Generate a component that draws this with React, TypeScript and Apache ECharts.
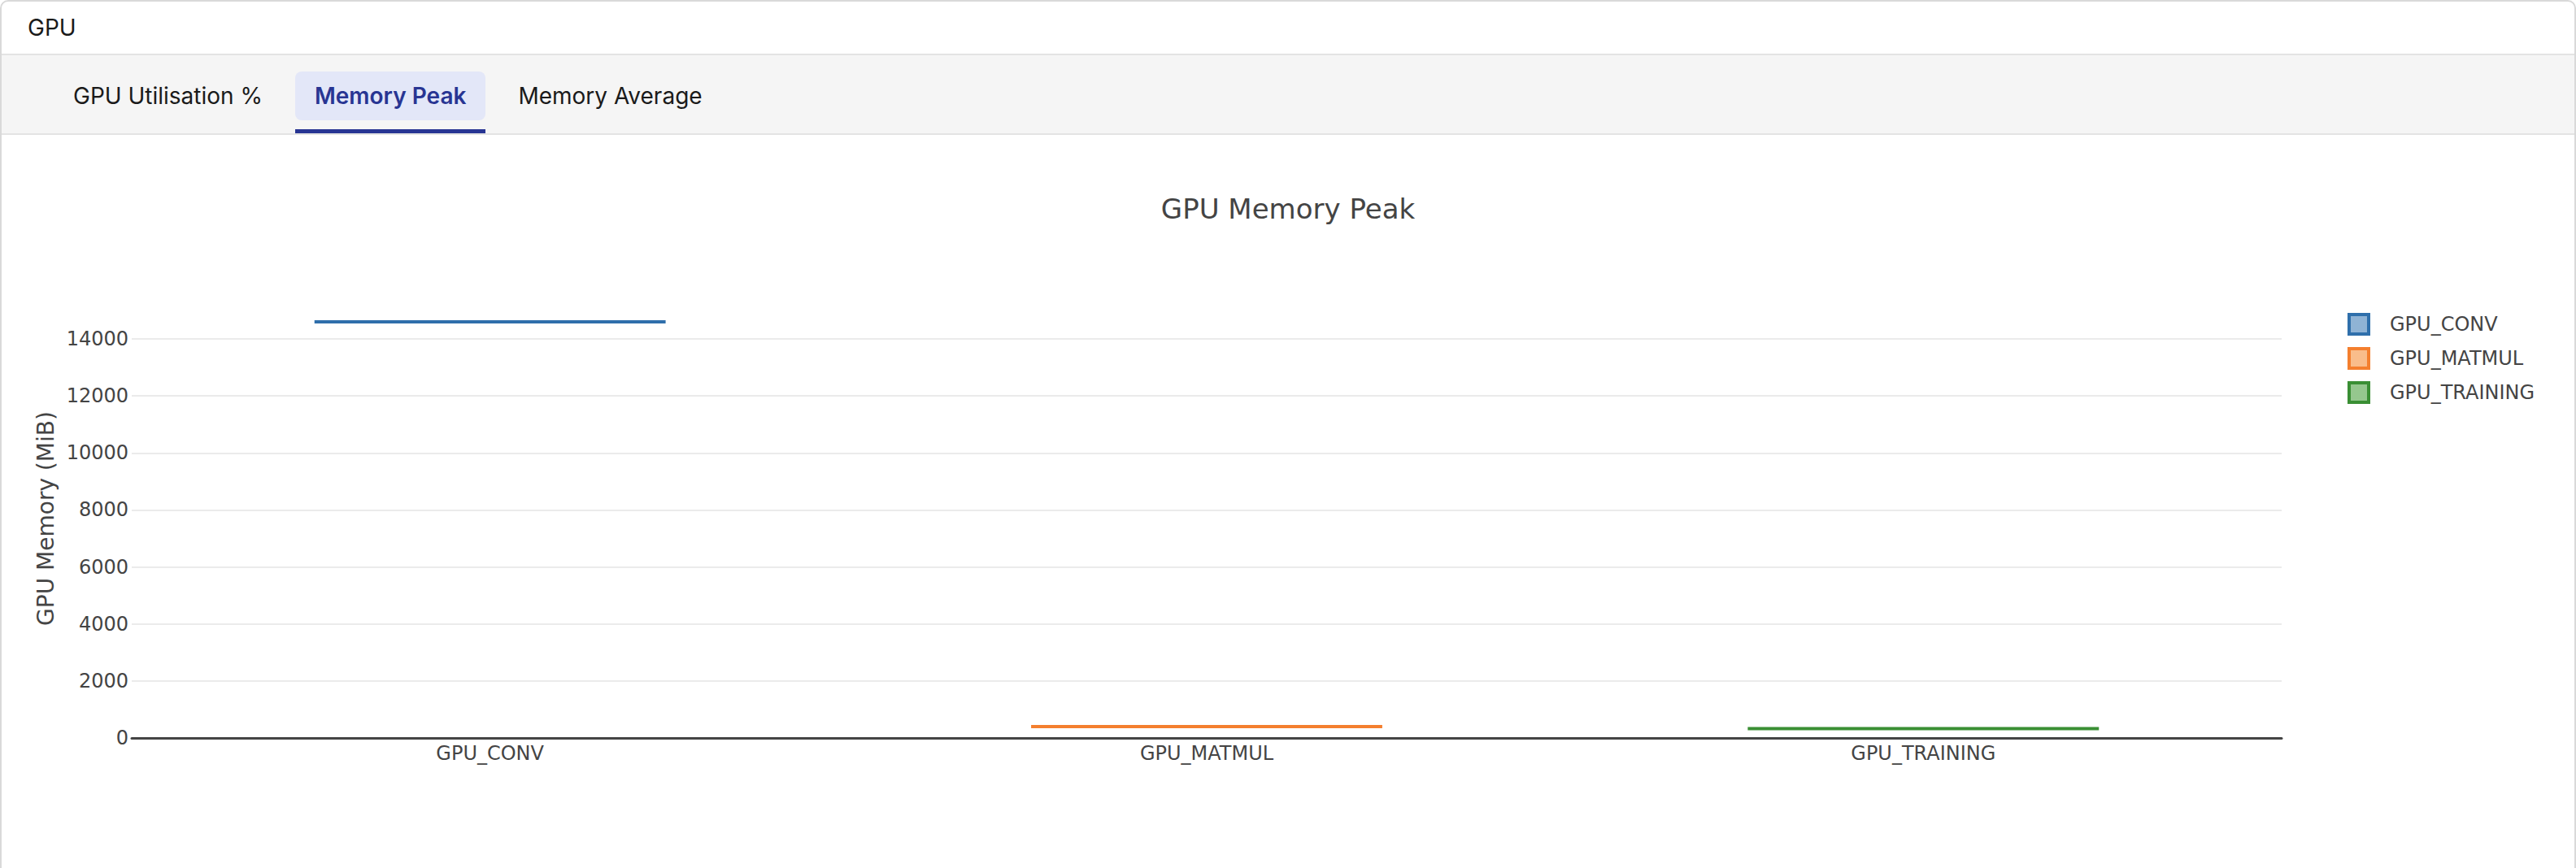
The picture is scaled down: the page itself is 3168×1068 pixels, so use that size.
import * as echarts from 'echarts';
import { useEffect, useRef } from 'react';

const categories = ['GPU_CONV', 'GPU_MATMUL', 'GPU_TRAINING'];
const peakMemory = [14600, 400, 330];
const lineColors = ['#2f6fab', '#f47f2e', '#3a8f34'];
const fillColors = ['#8fb3d5', '#f9bd8b', '#95c78e'];
const tabs = ['GPU Utilisation %', 'Memory Peak', 'Memory Average'];
const activeTab = 1;

const chartFont = '"DejaVu Sans", Verdana, sans-serif';

function MemoryPeakChart() {
  const chartRef = useRef<HTMLDivElement>(null);

  useEffect(() => {
    if (!chartRef.current) return;
    const chart = echarts.init(chartRef.current, undefined, { renderer: 'svg' });

    const series: any[] = categories.map((name, i) => ({
      name,
      type: 'custom',
      data: [[i, peakMemory[i]]],
      encode: { x: 0, y: 1 },
      itemStyle: { color: lineColors[i] },
      renderItem: (_params: any, api: any) => {
        const c = api.coord([api.value(0), api.value(1)]);
        const w = (api.size([1, 0]) as number[])[0] * 0.49;
        return {
          type: 'line',
          shape: { x1: c[0] - w / 2, y1: c[1], x2: c[0] + w / 2, y2: c[1] },
          style: { stroke: lineColors[i], lineWidth: 4 },
        };
      },
    }));

    chart.setOption({
      animation: false,
      backgroundColor: '#fff',
      textStyle: { fontFamily: chartFont },
      title: {
        text: 'GPU Memory Peak',
        left: 'center',
        top: 74,
        padding: 0,
        textStyle: { fontFamily: chartFont, fontSize: 34, fontWeight: 'normal', color: '#444' },
      },
      legend: {
        orient: 'vertical',
        left: 2885,
        top: 219,
        padding: 0,
        icon: 'rect',
        itemWidth: 24,
        itemHeight: 24,
        itemGap: 14,
        selectedMode: false,
        textStyle: {
          fontFamily: chartFont,
          fontSize: 24,
          lineHeight: 24,
          color: '#444',
          padding: [0, 0, 0, 21],
        },
        data: categories.map((name, i) => ({
          name,
          itemStyle: { color: fillColors[i], borderColor: lineColors[i], borderWidth: 4 },
        })),
      },
      grid: { left: 160, right: 360, top: 202, bottom: 160 },
      xAxis: {
        type: 'category',
        data: categories,
        boundaryGap: true,
        axisLine: { show: true, lineStyle: { color: '#444', width: 3 } },
        axisTick: { show: false },
        axisLabel: { fontFamily: chartFont, fontSize: 24, color: '#444', margin: 7 },
        splitLine: { show: false },
      },
      yAxis: {
        type: 'value',
        min: 0,
        max: 15400,
        interval: 2000,
        name: 'GPU Memory (MiB)',
        nameLocation: 'middle',
        nameGap: 82,
        nameTextStyle: { fontFamily: chartFont, fontSize: 28, color: '#444' },
        axisLine: { show: false },
        axisTick: { show: false },
        axisLabel: {
          fontFamily: chartFont,
          fontSize: 24,
          color: '#444',
          margin: 4,
          showMaxLabel: false,
          formatter: (v: number) => String(v),
        },
        splitLine: { show: true, showMaxLine: false, lineStyle: { color: '#ebebeb', width: 2 } },
      },
      series,
    });

    return () => chart.dispose();
  }, []);

  return <div ref={chartRef} style={{ width: 3164, height: 902 }} />;
}

export default function App() {
  useEffect(() => {
    document.body.style.margin = '0';
    document.body.style.overflow = 'hidden';
    document.documentElement.style.overflow = 'hidden';
  }, []);

  return (
    <div
      style={{
        width: 3168,
        height: 1100,
        boxSizing: 'border-box',
        border: '2px solid #d9d9d9',
        borderRadius: 10,
        overflow: 'hidden',
        background: '#fff',
        fontFamily: 'Inter, "Noto Sans", sans-serif',
      }}
    >
      <div
        style={{
          height: 64,
          borderBottom: '2px solid #e3e3e3',
          display: 'flex',
          alignItems: 'center',
          paddingLeft: 32,
          fontSize: 28,
          color: '#1a1a1a',
        }}
      >
        GPU
      </div>
      <div
        style={{
          height: 96,
          background: '#f5f5f5',
          borderBottom: '2px solid #e3e3e3',
          display: 'flex',
          gap: 16,
          paddingLeft: 64,
          boxSizing: 'content-box',
        }}
      >
        {tabs.map((t, i) => (
          <div key={t} style={{ display: 'flex', flexDirection: 'column', height: 96 }}>
            <div
              style={{
                marginTop: 20,
                height: 60,
                padding: '0 24px',
                display: 'flex',
                alignItems: 'center',
                fontSize: 28,
                borderRadius: 8,
                background: i === activeTab ? '#e3e7f8' : 'transparent',
                color: i === activeTab ? '#283593' : '#1a1a1a',
                fontWeight: i === activeTab ? 600 : 400,
                whiteSpace: 'nowrap',
              }}
            >
              {t}
            </div>
            <div style={{ flex: 1 }} />
            <div style={{ height: 5, background: i === activeTab ? '#283593' : 'transparent' }} />
          </div>
        ))}
      </div>
      <MemoryPeakChart />
    </div>
  );
}
